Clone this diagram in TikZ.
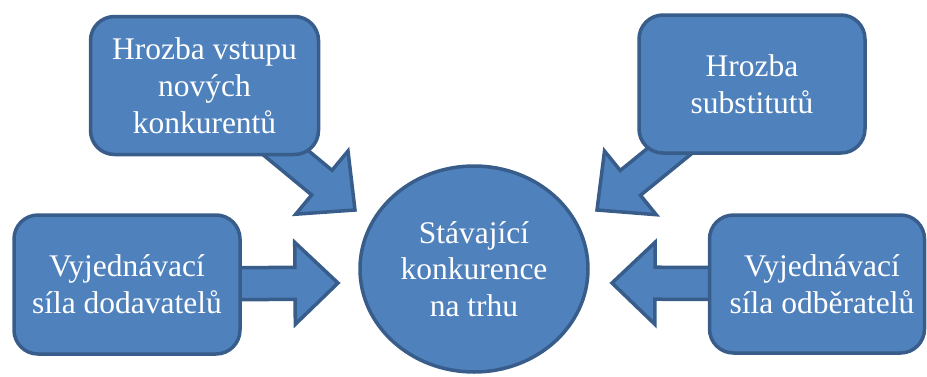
\documentclass[tikz,border=0pt]{standalone}
\usepackage{fontspec}
\setmainfont{Liberation Serif}
\usetikzlibrary{calc,shapes.geometric}
\pgfdeclarelayer{bg}
\pgfsetlayers{bg,main}
\definecolor{boxfill}{HTML}{4F81BD}
\definecolor{boxline}{HTML}{385D8A}
\tikzset{
  force/.style={draw=boxline, fill=boxfill, line width=3.5pt, rounded corners=24pt,
    text=white, align=center, font=\fontsize{31.5}{37}\selectfont, inner sep=0pt},
  core/.style={ellipse, draw=boxline, fill=boxfill, line width=3.5pt,
    text=white, align=center, font=\fontsize{31.5}{36.5}\selectfont, inner sep=0pt},
  blockarrow/.style={draw=boxline, fill=boxfill, line width=3.5pt, line join=miter},
}
\newcommand\myblockarrow[2]{%
  \coordinate (h) at ($(#2)!43pt!(#1)$);
  \path[blockarrow]
    ($(#1)!16pt!90:(#2)$) -- ($(h)!16pt!90:(#2)$) -- ($(h)!41pt!90:(#2)$) -- (#2)
    -- ($(h)!41pt!-90:(#2)$) -- ($(h)!16pt!-90:(#2)$) -- ($(#1)!16pt!-90:(#2)$) -- cycle;
}
\begin{document}
\begin{tikzpicture}[x=1pt, y=-1pt]
  \useasboundingbox (0,0) rectangle (927,376);
  \node[force, minimum width=228pt, minimum height=138pt] (tl) at (204.5,85.5)
    {Hrozba vstupu\\nových\\konkurentů};
  \node[force, minimum width=226pt, minimum height=139pt] (bl) at (127,284.5)
    {Vyjednávací\\síla dodavatelů};
  \node[force, minimum width=226pt, minimum height=138pt] (tr) at (752,84)
    {Hrozba\\substitutů};
  \node[force, minimum width=215pt, minimum height=138pt] (br) at (817,284)
    {\hspace*{10pt}Vyjednávací\\\hspace*{10pt}síla odběratelů};
  \node[core, minimum width=228pt, minimum height=206pt] (c) at (474,269)
    {Stávající\\konkurence\\na trhu};
  \coordinate (tipTL) at (355,210);
  \coordinate (tipTR) at (597,210);
  \coordinate (tipBL) at (338,283);
  \coordinate (tipBR) at (612,283);
  \begin{pgfonlayer}{bg}
    \myblockarrow{tl.center}{tipTL}
    \myblockarrow{tr.center}{tipTR}
    \myblockarrow{bl.center}{tipBL}
    \myblockarrow{br.center}{tipBR}
  \end{pgfonlayer}
\end{tikzpicture}
\end{document}
